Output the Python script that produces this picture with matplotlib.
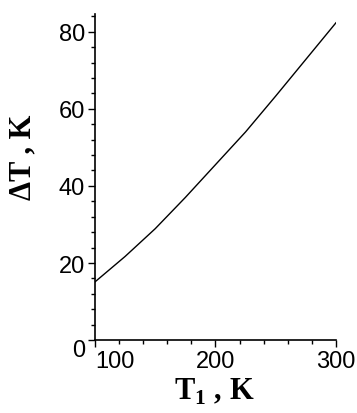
import numpy as np
import matplotlib.pyplot as plt
import matplotlib.transforms as mtransforms
from matplotlib.ticker import MultipleLocator

T1 = [100, 125, 150, 175, 200, 225, 250, 275, 300]
dT = [15.1, 21.7, 28.9, 37.0, 45.5, 54.0, 63.3, 72.8, 82.3]
xticks = [100, 200, 300]
yticks = [0, 20, 40, 60, 80]

fig = plt.figure(figsize=(3.57, 4.14), dpi=100)
ax = fig.add_axes([0.266, 0.176, 0.675, 0.787])
ax.plot(T1, dT, color='black', lw=1.0)

ax.set_xlim(100, 300)
ax.set_ylim(0, 84.5)
ax.set_xticks(xticks)
ax.set_yticks(yticks)
ax.xaxis.set_minor_locator(MultipleLocator(20))
ax.yaxis.set_minor_locator(MultipleLocator(4))
for s in ['top', 'right']:
    ax.spines[s].set_visible(False)
ax.spines['left'].set_linewidth(1.2)
ax.spines['bottom'].set_linewidth(1.2)
ax.tick_params(which='major', direction='out', length=5, width=1, labelsize=17, pad=2)
ax.tick_params(which='minor', direction='out', length=3, width=1)
for lab in ax.get_xticklabels() + ax.get_yticklabels():
    lab.set_family('Liberation Sans')
ax.get_xticklabels()[0].set_ha('left')
y0 = ax.get_yticklabels()[0]
y0.set_transform(y0.get_transform() +
                 mtransforms.ScaledTranslation(0, -7 / 100, fig.dpi_scale_trans))

fig.text(0.60, 0.053, r'T$_\mathregular{1}$ , K', fontsize=22, fontweight='bold',
         family='Liberation Serif', ha='center', va='center')
fig.text(0.065, 0.62, '\u0394T , K', fontsize=22, fontweight='bold',
         family='Liberation Serif', ha='center', va='center', rotation=90)

fig.savefig('out.png', dpi=100)
